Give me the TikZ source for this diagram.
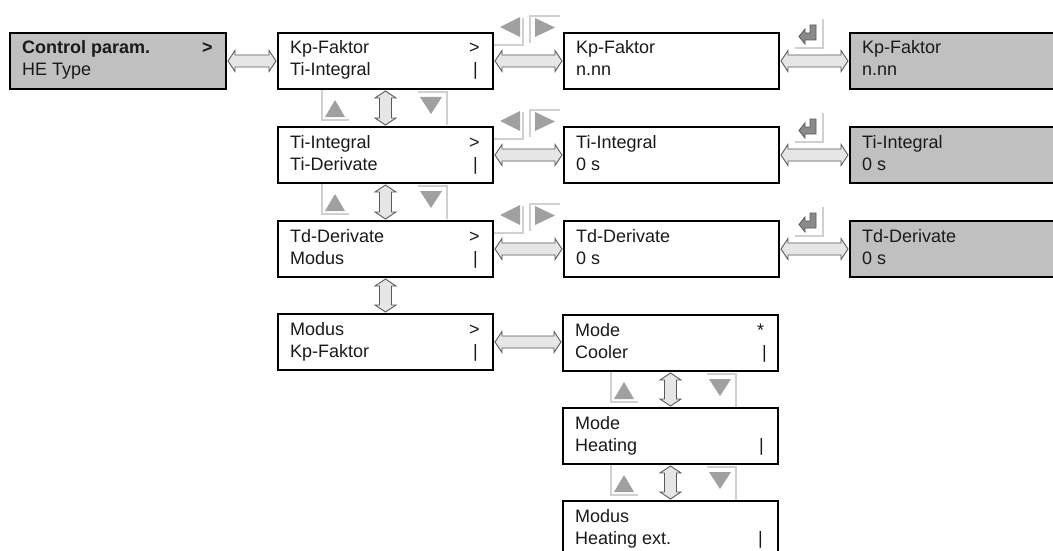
\documentclass[tikz,border=0pt]{standalone}
\usepackage{fontspec}
\setmainfont{Liberation Sans}
\usetikzlibrary{calc}
\definecolor{boxgray}{HTML}{C0C0C0}
\definecolor{arrfill}{HTML}{E6E6E6}
\definecolor{arrline}{HTML}{5A5A5A}
\definecolor{trifill}{HTML}{A0A0A0}
\definecolor{iconline}{HTML}{D0D0D0}
\definecolor{enterfill}{HTML}{8A8A8A}
\definecolor{txtcol}{HTML}{1A1A1A}

\newcommand\panel[7]{%
  \node[box,#5,minimum width=#4pt] (#1) at (#2,#3) {};
  \node[txt,anchor=base west] (#1-a) at ($(#1.north west)+(13,22)$) {#6};
  \node[txt,anchor=base west] (#1-b) at ($(#1.north west)+(13,44)$) {#7};}
\newcommand\rmark[3]{\node[txt,anchor=base west] at ($(#1.north east)+(#2)$) {#3};}
\newcommand\harrow[2]{\path[conn] let \p1=(#1.east),\p2=(#2.west) in
  (\x1+1pt,\y1) -- (\x1+8pt,\y1+10.5pt) -- (\x1+8pt,\y1+6pt) -- (\x2-8pt,\y1+6pt) -- (\x2-8pt,\y1+10.5pt) -- (\x2-1pt,\y1)
  -- (\x2-8pt,\y1-10.5pt) -- (\x2-8pt,\y1-6pt) -- (\x1+8pt,\y1-6pt) -- (\x1+8pt,\y1-10.5pt) -- cycle;}
\newcommand\varrow[2]{\path[conn] let \p1=(#1.south),\p2=(#2.north) in
  (\x1,\y1-1pt) -- (\x1+10.5pt,\y1-8pt) -- (\x1+6pt,\y1-8pt) -- (\x1+6pt,\y2+8pt) -- (\x1+10.5pt,\y2+8pt) -- (\x1,\y2+1pt)
  -- (\x1-10.5pt,\y2+8pt) -- (\x1-6pt,\y2+8pt) -- (\x1-6pt,\y1-8pt) -- (\x1-10.5pt,\y1-8pt) -- cycle;}
\newcommand\lricon[2]{\begin{scope}[shift={(#1,#2)}]
  \draw[iconln] (0,29) -- (29,29) -- (29,2);
  \fill[trifill] (6,11) -- (26,1) -- (26,21) -- cycle;
  \draw[iconln] (36,27) -- (36,0) -- (66,0);
  \fill[trifill] (41,2) -- (61,11.5) -- (41,21) -- cycle;
\end{scope}}
\newcommand\entericon[2]{\begin{scope}[shift={(#1,#2)}]
  \draw[iconln] (0,29) -- (28,29) -- (28,0);
  \path[enterglyph] (15,6) -- (21,6) -- (21,21) -- (10,21) -- (10,25) -- (4,17.5) -- (10,10) -- (10,14) -- (15,14) -- cycle;
\end{scope}}
\newcommand\udicon[2]{\begin{scope}[shift={(#1,#2)}]
  \draw[iconln] (45,2) -- (45,32) -- (72,32);
  \fill[trifill] (58,12) -- (68,29) -- (48,29) -- cycle;
  \draw[iconln] (141,4) -- (170,4) -- (170,37);
  \fill[trifill] (143,9) -- (165,9) -- (154,26) -- cycle;
\end{scope}}

\begin{document}
\begin{tikzpicture}[x=1pt,y=-1pt,
  box/.style={draw=black,line width=2pt,rectangle,minimum height=56pt,inner sep=0pt,anchor=north west},
  gbox/.style={fill=boxgray},
  wbox/.style={fill=white},
  txt/.style={inner sep=0pt,text=txtcol,font=\fontsize{18}{22}\selectfont},
  conn/.style={fill=arrfill,draw=arrline,line width=0.9pt,line join=miter},
  iconln/.style={draw=iconline,line width=2pt},
  enterglyph/.style={fill=enterfill,draw=arrline,line width=0.8pt}]
\clip (0,0) rectangle (1053,551);
\fill[white] (0,0) rectangle (1053,551);

% column 1
\panel{k0}{9}{32}{216}{gbox}{\bfseries Control param.}{HE Type}
\rmark{k0}{-25,22}{\bfseries >}

% column 2
\panel{p1}{277}{32}{215}{wbox}{Kp-Faktor}{Ti-Integral}
\rmark{p1}{-25,22}{>}\rmark{p1}{-21,44}{|}
\panel{p2}{277}{126}{215}{wbox}{Ti-Integral}{Ti-Derivate}
\rmark{p2}{-25,22}{>}\rmark{p2}{-21,44}{|}
\panel{p3}{277}{220}{215}{wbox}{Td-Derivate}{Modus}
\rmark{p3}{-25,22}{>}\rmark{p3}{-21,44}{|}
\panel{p4}{277}{313}{215}{wbox}{Modus}{Kp-Faktor}
\rmark{p4}{-25,22}{>}\rmark{p4}{-21,44}{|}

% column 3
\panel{e1}{563}{32}{215}{wbox}{Kp-Faktor}{n.nn}
\panel{e2}{563}{126}{215}{wbox}{Ti-Integral}{0 s}
\panel{e3}{563}{220}{215}{wbox}{Td-Derivate}{0 s}

% column 4
\panel{g1}{849}{32}{215}{gbox}{Kp-Faktor}{n.nn}
\panel{g2}{849}{126}{215}{gbox}{Ti-Integral}{0 s}
\panel{g3}{849}{220}{215}{gbox}{Td-Derivate}{0 s}

% mode column
\panel{m1}{562}{314}{215}{wbox}{Mode}{Cooler}
\rmark{m1}{-22,22}{*}\rmark{m1}{-17,44}{|}
\panel{m2}{562}{407}{215}{wbox}{Mode}{Heating}
\rmark{m2}{-20,44}{|}
\panel{m3}{562}{500}{215}{wbox}{Modus}{Heating ext.}
\rmark{m3}{-21,44}{|}

% icons
\lricon{494}{16}\lricon{494}{110}\lricon{494}{204}
\entericon{795}{19}\entericon{795}{113}\entericon{795}{207}
\udicon{277}{88}\udicon{277}{182}
\udicon{566}{370}\udicon{566}{463}

% connectors
\harrow{k0}{p1}
\harrow{p1}{e1}\harrow{e1}{g1}
\harrow{p2}{e2}\harrow{e2}{g2}
\harrow{p3}{e3}\harrow{e3}{g3}
\harrow{p4}{m1}
\varrow{p1}{p2}\varrow{p2}{p3}\varrow{p3}{p4}
\varrow{m1}{m2}\varrow{m2}{m3}
\end{tikzpicture}
\end{document}
